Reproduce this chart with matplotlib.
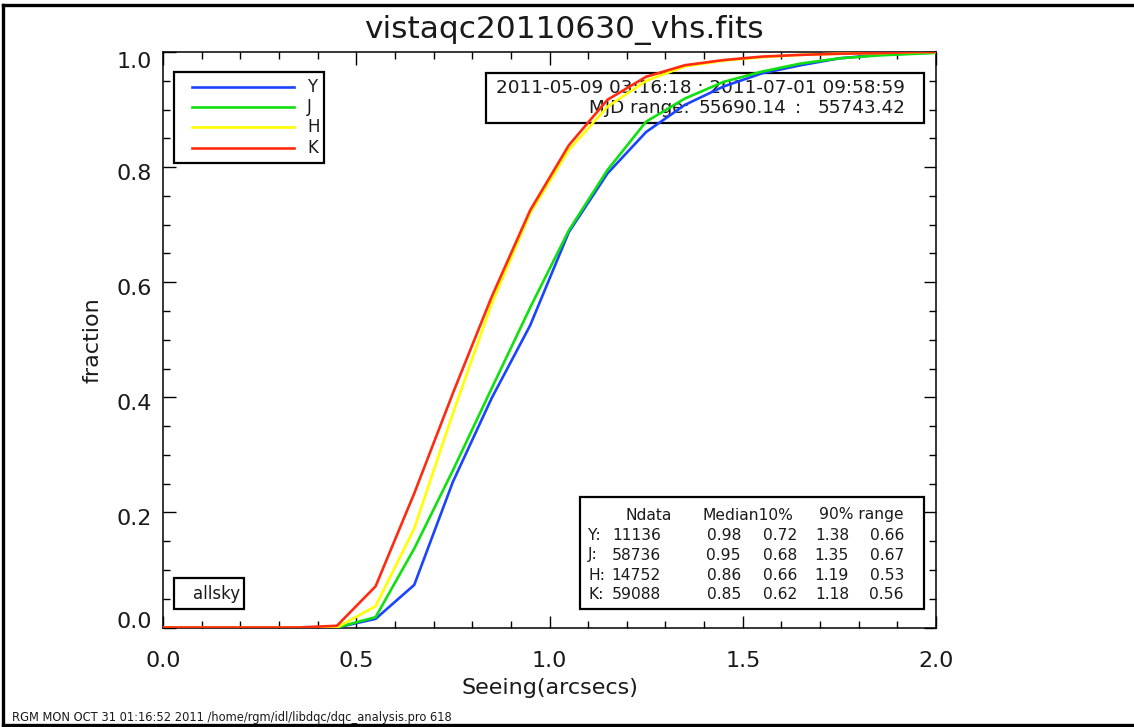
import numpy as np
import matplotlib
matplotlib.use("Agg")
import matplotlib.pyplot as plt
from matplotlib.patches import Rectangle
from matplotlib.lines import Line2D
from matplotlib.transforms import ScaledTranslation
from matplotlib.ticker import MultipleLocator, FormatStrFormatter

# ---------------- data ----------------
seeing = [-0.05, 0.05, 0.15, 0.25, 0.35, 0.45, 0.55, 0.65, 0.75, 0.85, 0.95,
          1.05, 1.15, 1.25, 1.35, 1.45, 1.55, 1.65, 1.75, 1.85, 1.95, 2.05]
frac_Y = [0, 0, 0, 0, 0, 0.0, 0.015, 0.074, 0.253, 0.398, 0.525,
          0.687, 0.789, 0.861, 0.908, 0.940, 0.963, 0.977, 0.989, 0.995, 0.998, 1.0]
frac_J = [0, 0, 0, 0, 0, 0.0, 0.018, 0.137, 0.273, 0.415, 0.556,
          0.690, 0.795, 0.879, 0.919, 0.948, 0.966, 0.980, 0.989, 0.994, 0.997, 1.0]
frac_H = [0, 0, 0, 0, 0, 0.0, 0.037, 0.172, 0.372, 0.562, 0.720,
          0.830, 0.905, 0.950, 0.975, 0.985, 0.991, 0.995, 0.997, 0.998, 1.0, 1.0]
frac_K = [0, 0, 0, 0, 0, 0.003, 0.0715, 0.233, 0.407, 0.574, 0.725,
          0.838, 0.917, 0.957, 0.977, 0.986, 0.992, 0.995, 0.997, 0.998, 1.0, 1.0]

bands = ["Y", "J", "H", "K"]
colors = ["#1a44ff", "#10e010", "#ffff00", "#ff2a10"]
series = [frac_Y, frac_J, frac_H, frac_K]

ndata = ["11136", "58736", "14752", "59088"]
median = ["0.98", "0.95", "0.86", "0.85"]
p10 = ["0.72", "0.68", "0.66", "0.62"]
p90 = ["1.38", "1.35", "1.19", "1.18"]
prange = ["0.66", "0.67", "0.53", "0.56"]

title = "vistaqc20110630_vhs.fits"
date_line1 = "2011-05-09 03:16:18 : 2011-07-01 09:58:59"
mjd_label = "MJD range:"
mjd_start = "55690.14"
mjd_end = "55743.42"
footer = "RGM MON OCT 31 01:16:52 2011 /home/rgm/idl/libdqc/dqc_analysis.pro 618"

# ---------------- figure ----------------
W, H = 1134, 727
fig = plt.figure(figsize=(W / 100, H / 100), dpi=100)
plt.rcParams['font.family'] = ['DejaVu Sans']
TXT = "#1a1a1a"


def P(x, y):
    return (x / W, 1 - y / H)


ax_l, ax_r, ax_t, ax_b = 163, 936, 52, 627.5
ax = fig.add_axes([ax_l / W, 1 - ax_b / H, (ax_r - ax_l) / W, (ax_b - ax_t) / H])

for band, c, s in zip(bands, colors, series):
    ax.plot(seeing, s, color=c, lw=1.9, zorder=5, solid_joinstyle='miter')

ax.set_xlim(0, 2.0)
ax.set_ylim(0, 1.0)
ax.xaxis.set_major_locator(MultipleLocator(0.5))
ax.xaxis.set_minor_locator(MultipleLocator(0.1))
ax.yaxis.set_major_locator(MultipleLocator(0.2))
ax.yaxis.set_minor_locator(MultipleLocator(0.05))
ax.xaxis.set_major_formatter(FormatStrFormatter('%.1f'))
ax.yaxis.set_major_formatter(FormatStrFormatter('%.1f'))
ax.tick_params(which='both', direction='in', top=True, right=True, color='black', width=1.0)
ax.tick_params(which='major', length=9)
ax.tick_params(which='minor', length=5)
ax.tick_params(axis='x', which='major', pad=17, labelsize=16, labelcolor=TXT)
ax.tick_params(axis='y', which='major', pad=8, labelsize=16, labelcolor=TXT)
for sp in ax.spines.values():
    sp.set_linewidth(1.1)
    sp.set_color('black')

ax.set_xlabel("Seeing(arcsecs)", fontsize=16, color=TXT, labelpad=5)
ax.set_ylabel("fraction", fontsize=16, color=TXT, labelpad=10)
fig.text(*P(564, 30), title, fontsize=22.5, color=TXT, ha='center', va='center')

# figure border: left, top, bottom (right edge is off-canvas)
bkw = dict(color='black', lw=2.4, transform=fig.transFigure)
fig.add_artist(Line2D([3 / W, 3 / W], [1 - 5 / H, 1 - 725 / H], **bkw))
fig.add_artist(Line2D([3 / W, 1.01], [1 - 5 / H, 1 - 5 / H], **bkw))
fig.add_artist(Line2D([3 / W, 1.01], [1 - 725 / H, 1 - 725 / H], **bkw))


def box(x0, y0, x1, y1, lw=1.6, z=3):
    r = Rectangle(P(x0, y1), (x1 - x0) / W, (y1 - y0) / H, fill=False, lw=lw,
                  edgecolor='black', transform=fig.transFigure, zorder=z, clip_on=False)
    ax.add_patch(r)


# legend box
box(174, 72, 324, 162.5)
for i, (band, c) in enumerate(zip(bands, colors)):
    yy = 86.7 + i * 20.3
    ax.plot([192 / W, 294 / W], [1 - yy / H, 1 - yy / H], color=c, lw=1.9,
            transform=fig.transFigure, clip_on=False, zorder=4)
    ax.text(*P(307, yy), band, fontsize=12, color=TXT, ha='left', va='center',
            transform=fig.transFigure, zorder=4)

# date box (curves pass over it)
box(486, 72.5, 924, 122.5, z=2)
dkw = dict(fontsize=13.2, color=TXT, va='center', transform=fig.transFigure, zorder=2)
ax.text(*P(905, 88), date_line1, ha='right', **dkw)
ax.text(*P(589, 108), mjd_label, ha='left', **dkw)
ax.text(*P(786, 108), mjd_start, ha='right', **dkw)
ax.text(*P(798, 108), ":", ha='center', **dkw)
ax.text(*P(905, 108), mjd_end, ha='right', **dkw)

# stats table box
box(580, 497, 924, 609)
ty = [515, 535, 555, 575, 594.5]
tkw = dict(fontsize=11.2, color=TXT, va='center', transform=fig.transFigure, zorder=4)
ax.text(*P(672, ty[0]), "Ndata", ha='right', **tkw)
ax.text(*P(793, ty[0]), "Median10%", ha='right', **tkw)
ax.text(*P(904, ty[0]), "90% range", ha='right', **tkw)
for i in range(4):
    yy = ty[i + 1]
    ax.text(*P(588, yy), bands[i] + ":", ha='left', **tkw)
    ax.text(*P(661, yy), ndata[i], ha='right', **tkw)
    ax.text(*P(741, yy), median[i], ha='right', **tkw)
    ax.text(*P(797, yy), p10[i], ha='right', **tkw)
    ax.text(*P(849, yy), p90[i], ha='right', **tkw)
    ax.text(*P(904, yy), prange[i], ha='right', **tkw)

# allsky box
box(173.5, 578, 244, 608.5)
ax.text(*P(193, 594), "allsky", fontsize=12, color=TXT, ha='left', va='center',
        transform=fig.transFigure, zorder=4)

fig.text(*P(12, 717), footer, fontsize=8.3, color=TXT, ha='left', va='center')

# IDL-style y tick label placement: end labels kept inside the axis range
fig.canvas.draw()
for tick in ax.yaxis.get_major_ticks():
    loc = tick.get_loc()
    lab = tick.label1
    if abs(loc) < 1e-9:
        lab.set_va('baseline')
    elif abs(loc - 1.0) < 1e-9:
        lab.set_va('top')
    else:
        lab.set_va('center_baseline')
        lab.set_transform(lab.get_transform() + ScaledTranslation(0, -0.05, fig.dpi_scale_trans))

fig.savefig("out.png", dpi=100)
